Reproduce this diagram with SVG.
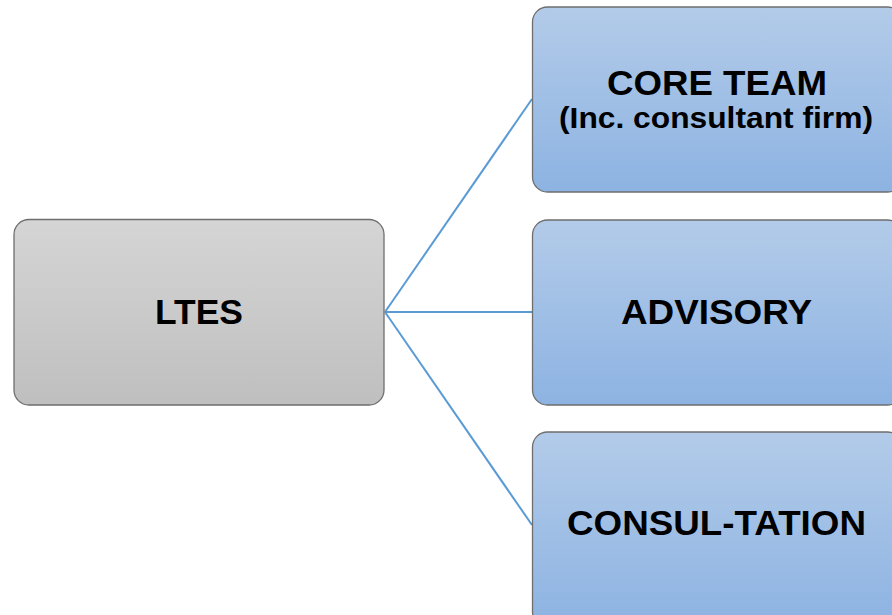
<svg xmlns="http://www.w3.org/2000/svg" width="892" height="615" viewBox="0 0 892 615">
<defs>
<linearGradient id="gGray" x1="0" y1="0" x2="0" y2="1">
<stop offset="0" stop-color="#d5d5d5"/>
<stop offset="1" stop-color="#bfbfbf"/>
</linearGradient>
<linearGradient id="gBlue" x1="0" y1="0" x2="0" y2="1">
<stop offset="0" stop-color="#b3cbe9"/>
<stop offset="1" stop-color="#8db3e2"/>
</linearGradient>
<style>
.box{stroke:#6e6e6e;stroke-width:1.3}
.gray{fill:url(#gGray)}
.blue{fill:url(#gBlue)}
.t{font-family:"Liberation Sans",Arial,sans-serif;font-weight:bold;fill:#000;text-anchor:middle}
.big{font-size:35px}
.small{font-size:30px}
.conn{stroke:#5b9bd5;stroke-width:2;fill:none}
</style>
</defs>
<rect width="892" height="615" fill="#ffffff"/>
<g id="connectors">
<line class="conn" x1="385" y1="312" x2="532" y2="99"/>
<line class="conn" x1="385" y1="312" x2="532" y2="312"/>
<line class="conn" x1="385" y1="312" x2="532" y2="525"/>
</g>
<g id="node-ltes">
<rect class="box gray" x="14" y="219.5" width="370" height="185.5" rx="15"/>
<text class="t big" x="199" y="324" textLength="88" lengthAdjust="spacingAndGlyphs">LTES</text>
</g>
<g id="node-core-team">
<rect class="box blue" x="532.5" y="7" width="370" height="185" rx="15"/>
<text class="t big" x="717" y="95" textLength="220" lengthAdjust="spacingAndGlyphs">CORE TEAM</text>
<text class="t small" x="716" y="128" textLength="314" lengthAdjust="spacingAndGlyphs">(Inc. consultant firm)</text>
</g>
<g id="node-advisory">
<rect class="box blue" x="532.5" y="220" width="370" height="185" rx="15"/>
<text class="t big" x="716.5" y="324" textLength="191" lengthAdjust="spacingAndGlyphs">ADVISORY</text>
</g>
<g id="node-consultation">
<rect class="box blue" x="532.5" y="432" width="370" height="195" rx="15"/>
<text class="t big" x="716.5" y="535" textLength="299" lengthAdjust="spacingAndGlyphs">CONSUL-TATION</text>
</g>
</svg>
